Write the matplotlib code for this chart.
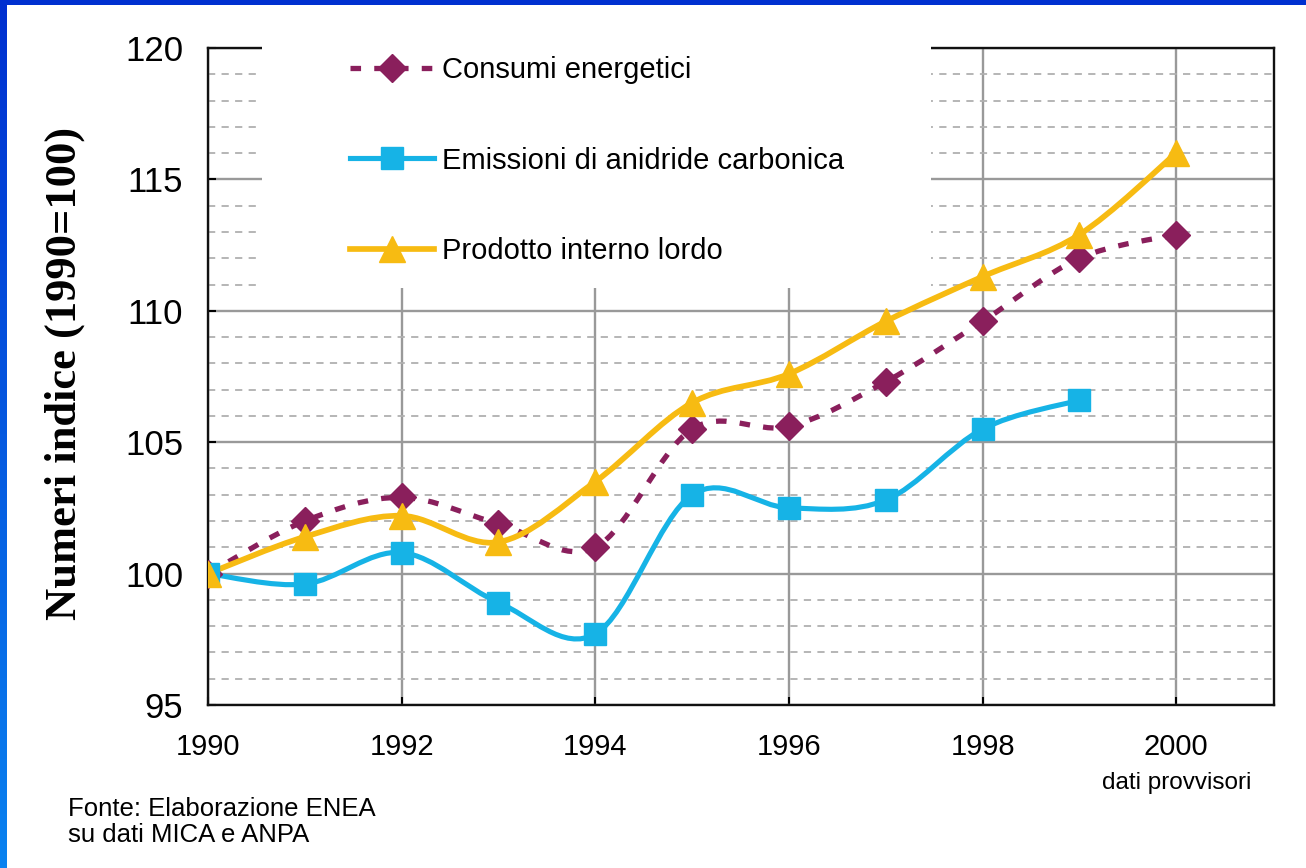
import matplotlib
matplotlib.use("Agg")
import matplotlib.pyplot as plt
import matplotlib.ticker as mticker
from matplotlib.lines import Line2D
from matplotlib.patches import PathPatch, Rectangle
from matplotlib.path import Path
import numpy as np

years = [1990, 1991, 1992, 1993, 1994, 1995, 1996, 1997, 1998, 1999, 2000]
consumi = [100.0, 102.0, 102.9, 101.9, 101.0, 105.5, 105.6, 107.3, 109.6, 112.0, 112.9]
emissioni_years = years[:-1]
emissioni = [100.0, 99.6, 100.8, 98.9, 97.7, 103.0, 102.5, 102.8, 105.5, 106.6]
pil = [100.0, 101.4, 102.2, 101.2, 103.5, 106.5, 107.6, 109.6, 111.3, 112.9, 116.0]

labels = ["Consumi energetici", "Emissioni di anidride carbonica", "Prodotto interno lordo"]
x_ticks = [1990, 1992, 1994, 1996, 1998, 2000]
y_ticks = [95, 100, 105, 110, 115, 120]

C_CONSUMI = "#8a1f5c"
C_EMISSIONI = "#16b3e6"
C_PIL = "#f7bb12"

SANS = "Liberation Sans"
SERIF = "Liberation Serif"


def smooth_path(xs, ys):
    """Smoothed line like a spreadsheet chart: cubic Bezier through every point."""
    pts = np.column_stack([xs, ys]).astype(float)
    n = len(pts)
    verts = [pts[0]]
    codes = [Path.MOVETO]
    for i in range(n - 1):
        p0 = pts[max(i - 1, 0)]
        p1 = pts[i]
        p2 = pts[i + 1]
        p3 = pts[min(i + 2, n - 1)]
        c1 = p1 + (p2 - p0) / 6.0
        c2 = p2 - (p3 - p1) / 6.0
        verts += [c1, c2, p2]
        codes += [Path.CURVE4] * 3
    return Path(verts, codes)


fig = plt.figure(figsize=(13.06, 8.68), dpi=100)
fig.patch.set_facecolor("white")

# blue slide frame (top bar + left gradient strip)
top = fig.add_axes([0, 1 - 5 / 868, 1, 5 / 868])
top.set_axis_off()
top.add_patch(Rectangle((0, 0), 1, 1, color="#0030d0", transform=top.transAxes))
side = fig.add_axes([0, 0, 7 / 1306, 1])
side.set_axis_off()
grad = np.linspace(0, 1, 256).reshape(-1, 1)
side.imshow(grad, aspect="auto", cmap=matplotlib.colors.LinearSegmentedColormap.from_list(
    "frame", ["#0030d0", "#0a82f0"]), extent=(0, 1, 1, 0))

ax = fig.add_axes([208 / 1306, 163 / 868, 1066 / 1306, 657 / 868])
ax.set_xlim(1990, 2001.01)
ax.set_ylim(95, 120)

ax.xaxis.set_major_locator(mticker.FixedLocator(x_ticks))
ax.yaxis.set_major_locator(mticker.FixedLocator(y_ticks))
ax.yaxis.set_minor_locator(mticker.MultipleLocator(1))
ax.grid(True, which="major", color="#999999", linewidth=1.7)
ax.grid(True, which="minor", axis="y", color="#b0b0b0", linewidth=1.3, linestyle=(0, (4, 3.5)))
ax.tick_params(which="major", direction="in", length=6, width=1.5, color="black")
ax.tick_params(which="minor", length=0)
ax.tick_params(axis="y", pad=18, labelsize=25)
ax.tick_params(axis="x", pad=20, labelsize=21)
for lab in ax.get_xticklabels() + ax.get_yticklabels():
    lab.set_fontfamily(SANS)
for sp in ax.spines.values():
    sp.set_linewidth(1.7)
    sp.set_color("#111111")

ax.set_ylabel("Numeri indice (1990=100)", fontsize=32, fontweight="bold", family=SERIF)
ax.yaxis.set_label_coords(-0.1154, 0.505)

# smoothed lines
ax.add_patch(PathPatch(smooth_path(years, consumi), fill=False, edgecolor=C_CONSUMI,
                       linewidth=3.8, linestyle=(0, (2.0, 2.5)), zorder=3))
ax.add_patch(PathPatch(smooth_path(emissioni_years, emissioni), fill=False,
                       edgecolor=C_EMISSIONI, linewidth=3.7, zorder=3))
ax.add_patch(PathPatch(smooth_path(years, pil), fill=False, edgecolor=C_PIL,
                       linewidth=4.1, zorder=3))

# markers
ax.plot(years, consumi, linestyle="none", marker="D", ms=14.5, color=C_CONSUMI, zorder=4)
ax.plot(emissioni_years, emissioni, linestyle="none", marker="s", ms=15.5, color=C_EMISSIONI, zorder=4)
ax.plot(years, pil, linestyle="none", marker="^", ms=19, color=C_PIL, zorder=4)

# white box behind the legend hides grid and top spine
ax.add_patch(Rectangle((0.0507, 0.635), 0.628, 0.38, transform=ax.transAxes,
                       facecolor="white", edgecolor="none", zorder=2.6, clip_on=False))

handles = [
    Line2D([], [], color=C_CONSUMI, linewidth=3.8, linestyle=(0, (2.0, 2.5)), marker="D", ms=14.5),
    Line2D([], [], color=C_EMISSIONI, linewidth=3.7, marker="s", ms=15.5),
    Line2D([], [], color=C_PIL, linewidth=4.1, marker="^", ms=19),
]
ax.legend(handles, labels, loc="upper left", bbox_to_anchor=(0.133, 0.988), frameon=False,
          prop={"family": SANS, "size": 21}, handlelength=2.9, handletextpad=0.25,
          labelspacing=2.15, borderpad=0, borderaxespad=0)

ax.text(2000, -0.118, "dati provvisori", transform=ax.get_xaxis_transform(),
        ha="center", va="center", fontsize=17.5, family=SANS)

fig.text(68 / 1306, 1 - 797 / 868, "Fonte: Elaborazione ENEA\nsu dati MICA e ANPA",
         ha="left", va="top", fontsize=18.5, family=SANS, linespacing=1.12)

fig.savefig("out.png", dpi=100)
